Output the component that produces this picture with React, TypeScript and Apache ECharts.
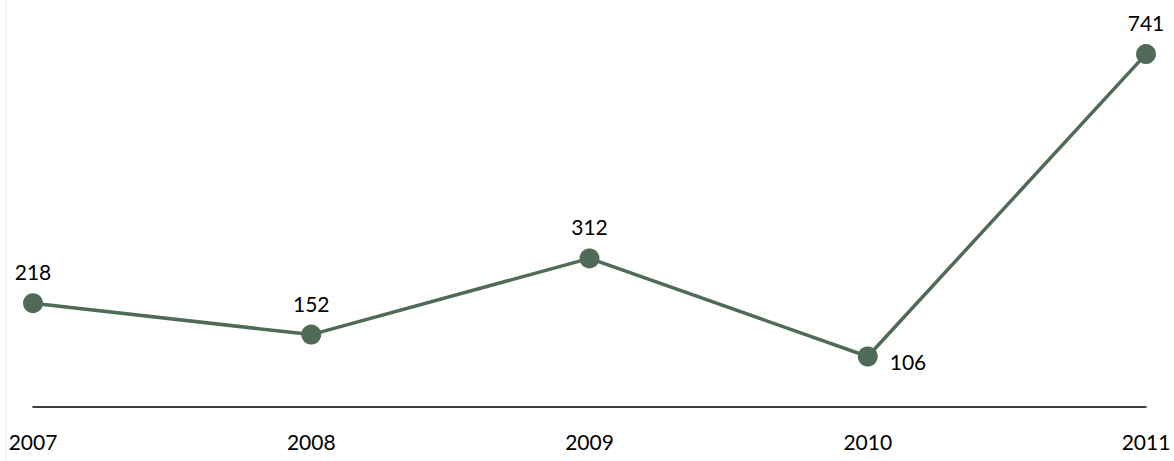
import React, { useEffect, useRef } from "react";
import * as echarts from "echarts";

const years = ["2007", "2008", "2009", "2010", "2011"];
const values = [218, 152, 312, 106, 741];

export default function App() {
  const ref = useRef<HTMLDivElement>(null);
  useEffect(() => {
    document.body.style.margin = "0";
    const chart = echarts.init(ref.current!, null, { renderer: "svg" });
    chart.setOption({
      animation: false,
      backgroundColor: "#ffffff",
      grid: { left: 33, right: 28, top: 26, bottom: 54 },
      graphic: [
        {
          type: "line",
          shape: { x1: 6, y1: 0, x2: 6, y2: 461 },
          style: { stroke: "#ececec", lineWidth: 1 },
        },
      ],
      xAxis: {
        type: "category",
        data: years,
        boundaryGap: false,
        axisLine: { lineStyle: { color: "#000000", width: 1.5 } },
        axisTick: { show: false },
        axisLabel: {
          color: "#000000",
          fontFamily: "Lato",
          fontSize: 21,
          margin: 24,
        },
      },
      yAxis: {
        type: "value",
        min: 0,
        max: 800,
        show: false,
        splitLine: { show: false },
      },
      series: [
        {
          type: "line",
          data: values.map((v, i) => ({
            value: v,
            label:
              i === 3
                ? { position: "right", distance: 12, offset: [0, 5] }
                : undefined,
          })),
          symbol: "circle",
          symbolSize: 20,
          itemStyle: { color: "#4f6b57" },
          lineStyle: { color: "#4f6b57", width: 3.5 },
          label: {
            show: true,
            position: "top",
            distance: 11,
            color: "#000000",
            fontFamily: "Lato",
            fontSize: 21,
          },
        },
      ],
    });
    return () => chart.dispose();
  }, []);
  return <div ref={ref} style={{ width: 1174, height: 461 }} />;
}
